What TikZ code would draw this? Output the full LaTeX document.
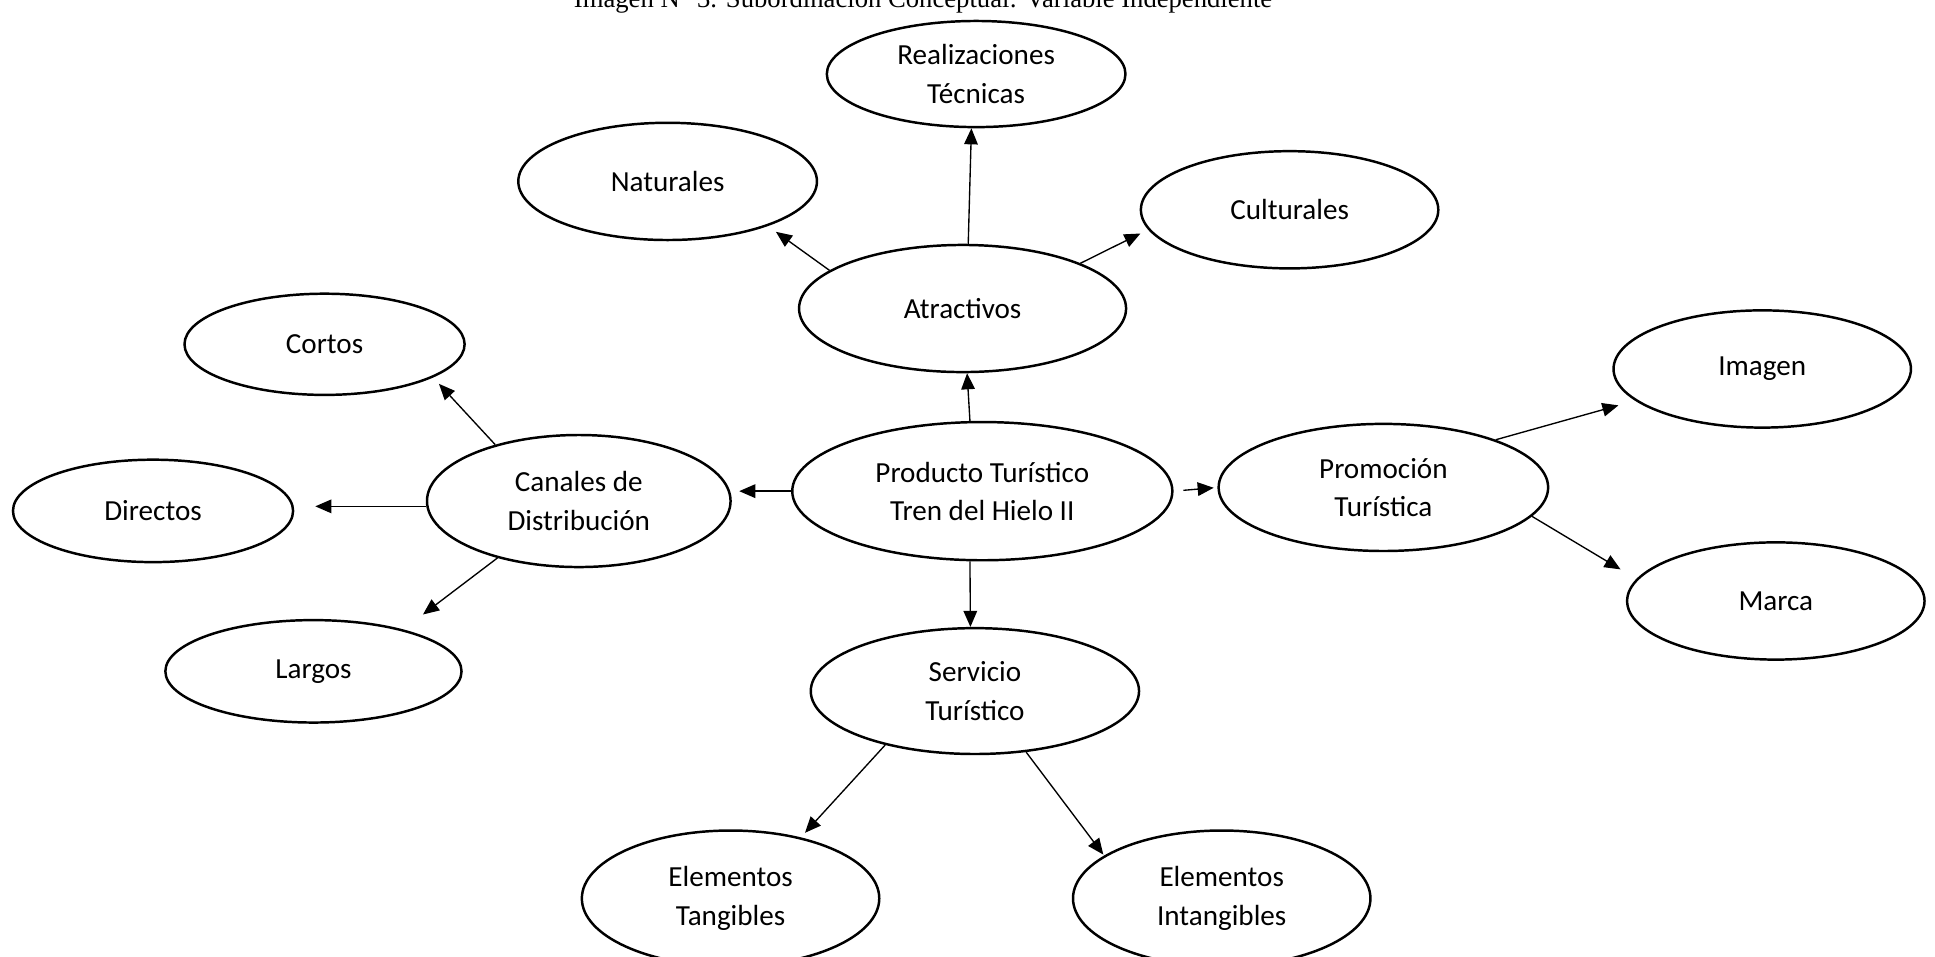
\documentclass[tikz,border=0pt]{standalone}
\usepackage{fontspec}
\setmainfont{Carlito}
\newfontfamily\titlefamily{Liberation Serif}
\usetikzlibrary{shapes.geometric,arrows.meta}
\newcommand{\bubfont}{\fontsize{23.6}{31}\selectfont}
\newcommand{\titfont}{\titlefamily\fontsize{21.6}{25}\selectfont}
\tikzset{
        bub/.style={ellipse, draw, line width=2pt, inner sep=0pt, align=center, font=\bubfont},
        arr/.style={-{Triangle[length=13pt,width=11pt]}, line width=1.1pt},
}
\begin{document}
\begin{tikzpicture}[x=1pt,y=-1pt]
        \clip (0,0) rectangle (1568,775);
        \node[font=\titfont, anchor=base] (tit) at (748,6) {Imagen N° 3. Subordinación Conceptual: Variable Independiente};
        % ellipses
        \node[bub, minimum width=242pt, minimum height=86pt] (real) at (791,60) {Realizaciones\\Técnicas};
        \node[bub, minimum width=242pt, minimum height=95pt] (nat) at (541,147) {Naturales};
        \node[bub, minimum width=241pt, minimum height=95pt] (cul) at (1045,170) {Culturales};
        \node[bub, minimum width=265pt, minimum height=103pt] (atr) at (780,250) {Atractivos};
        \node[bub, minimum width=227pt, minimum height=82pt] (cor) at (263,279) {Cortos};
        \node[bub, minimum width=241pt, minimum height=95pt] (img) at (1428,299) {Imagen};
        \node[bub, minimum width=227pt, minimum height=83pt] (dir) at (124,414) {Directos};
        \node[bub, minimum width=246pt, minimum height=107pt] (can) at (469,406) {Canales de\\Distribución};
        \node[bub, minimum width=308pt, minimum height=112pt] (prod) at (796,398) {Producto Turístico\\Tren del Hielo II};
        \node[bub, minimum width=267pt, minimum height=103pt] (prom) at (1121,395) {Promoción\\Turística};
        \node[bub, minimum width=241pt, minimum height=95pt] (mar) at (1439,487) {Marca};
        \node[bub, minimum width=240pt, minimum height=83pt] (lar) at (254,544) {Largos};
        \node[bub, minimum width=266pt, minimum height=102pt] (serv) at (790,560) {Servicio\\Turístico};
        \node[bub, minimum width=241pt, minimum height=110pt] (tan) at (592,728) {Elementos\\Tangibles};
        \node[bub, minimum width=241pt, minimum height=110pt] (int) at (990,728) {Elementos\\Intangibles};
        % arrows
        \draw[arr] (prod.100) -- (atr.-86);
        \draw[arr] (atr.85) -- (real.-95);
        \draw[arr, shorten >=8pt] (atr.164) -- (nat.-24);
        \draw[arr, shorten >=7pt] (atr.21) -- (cul.188);
        \draw[arr, shorten >=6pt] (prod.west) -- (can.east |- prod.west);
        \draw[arr, shorten <=8pt, shorten >=3pt] (prod.east) -- (prom.west);
        \draw[arr] (prod.-100) -- (serv.94);
        \draw[arr, shorten >=7pt] (can.146) -- (cor.-17);
        \draw[arr, shorten >=17pt] (can.182) -- (dir.east |- can.182);
        \draw[arr, shorten >=20pt] (can.215) -- (lar.25);
        \draw[arr, shorten >=14pt] (prom.23) -- (img.194);
        \draw[arr, shorten >=15pt] (prom.-11) -- (mar.171);
        \draw[arr, shorten >=5pt] (serv.211) -- (tan.41);
        \draw[arr, shorten >=1pt] (serv.-50) -- (int.160);
\end{tikzpicture}
\end{document}
